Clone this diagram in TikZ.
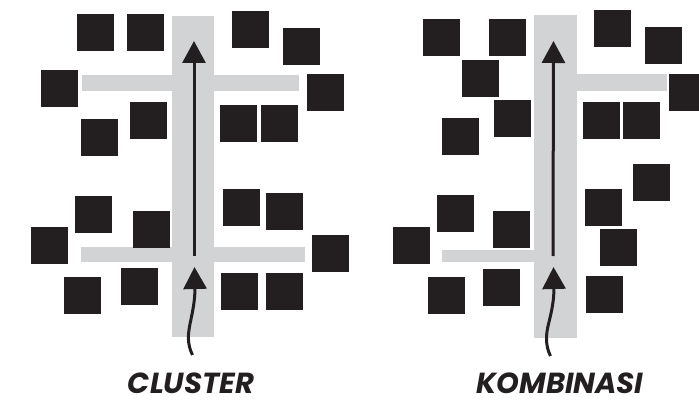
\documentclass[tikz,border=0pt]{standalone}
\usepackage{fontspec}
\newfontfamily\lblfont{Poppins}
\usetikzlibrary{arrows.meta}
\definecolor{blk}{HTML}{231F20}
\definecolor{road}{HTML}{D1D3D4}
\tikzset{
  blkbox/.style={fill=blk},
  roadbar/.style={fill=road},
  shaft/.style={draw=blk,line width=3pt,-{Triangle[width=23pt,length=22pt]}},
  tail/.style={draw=blk,line width=3pt},
  lbl/.style={font=\lblfont\bfseries\itshape\fontsize{29}{29}\selectfont,text=blk,inner sep=0pt,
    anchor=base,text height=21pt,text depth=0pt}
}
\newcommand{\sqr}[2]{\fill[blkbox] (#1,#2) rectangle ++(37,37);}
\begin{document}
\begin{tikzpicture}[x=1pt,y=-1pt]
\useasboundingbox (0,0) rectangle (699,401);
\begin{scope}
\clip (0,0) rectangle (699,401);
% ---------- left panel: CLUSTER ----------
\fill[roadbar] (172,16) rectangle (214,337);
\fill[roadbar] (82,75) rectangle (299,91);
\fill[roadbar] (81,247) rectangle (305,262);
\coordinate (l1s) at (194,256);
\coordinate (l1t) at (194,41);
\draw[shaft] (l1s) -- (l1t);
\coordinate (l2s) at (192.5,355);
\coordinate (l2m) at (195,287);
\coordinate (l2t) at (194.5,267);
\draw[tail] (l2s) .. controls (187,344) and (188,334) .. (190,324) .. controls (193,310) and (195,300) .. (l2m);
\draw[shaft] (l2m) -- (l2t);
\sqr{77}{14}\sqr{127}{14}\sqr{232}{11}\sqr{283}{28}
\sqr{41}{70}\sqr{307}{74}\sqr{130}{102}\sqr{81}{119}
\sqr{220}{105}\sqr{261}{105}
\sqr{75}{196}\sqr{31}{227}\sqr{133}{211}\sqr{64}{277}\sqr{121}{268}
\sqr{223}{189}\sqr{266}{193}\sqr{312}{235}\sqr{221}{273}\sqr{266}{273}
% ---------- right panel: KOMBINASI ----------
\fill[roadbar] (534,15) rectangle (577,338);
\fill[roadbar] (577,74) rectangle (667,91);
\fill[roadbar] (442,250) rectangle (534,262);
\coordinate (r1s) at (553,256);
\coordinate (r1t) at (553.5,41);
\draw[shaft] (r1s) -- (r1t);
\coordinate (r2s) at (550.5,356);
\coordinate (r2m) at (554,287);
\coordinate (r2t) at (553.5,267);
\draw[tail] (r2s) .. controls (545,345) and (546,334) .. (548.5,324) .. controls (552,310) and (554,300) .. (r2m);
\draw[shaft] (r2m) -- (r2t);
\sqr{423}{19}\sqr{489}{19}\sqr{594}{10}\sqr{645}{27}
\sqr{462}{60}\sqr{669}{74}\sqr{494}{100}\sqr{442}{118}
\sqr{583}{102}\sqr{623}{102}\sqr{633}{164}
\sqr{437}{195}\sqr{393}{227}\sqr{493}{211}\sqr{428}{277}\sqr{483}{269}
\sqr{585}{189}\sqr{600}{229}\sqr{586}{276}
\end{scope}
\node[lbl] (cluster) at (191,393) {CLUSTER};
\node[lbl] (kombinasi) at (560,393) {KOMBINASI};
\end{tikzpicture}
\end{document}
